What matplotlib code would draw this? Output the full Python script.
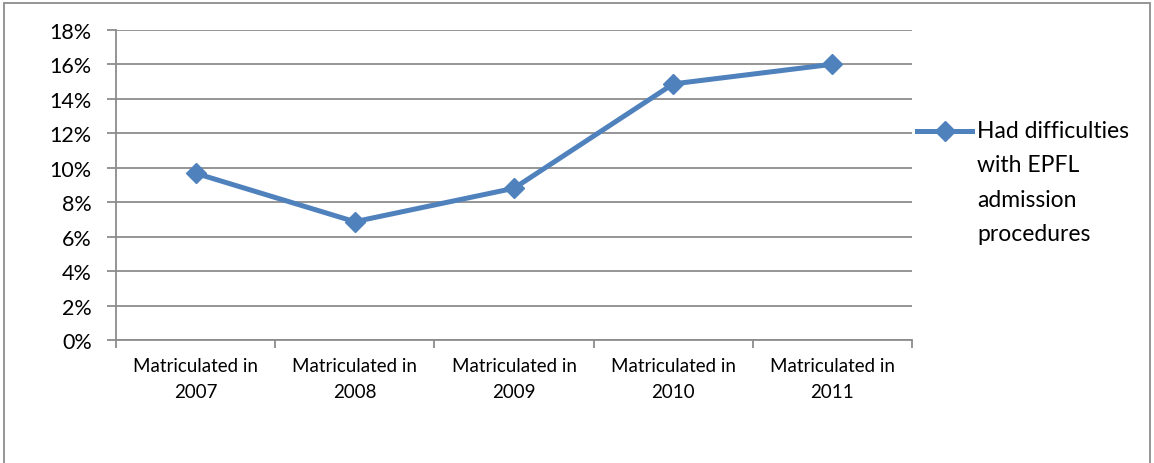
import matplotlib
matplotlib.use("Agg")
import matplotlib.pyplot as plt
from matplotlib.lines import Line2D
from matplotlib.patches import Rectangle
from matplotlib.ticker import FixedLocator, FuncFormatter

categories = ["Matriculated in\n2007", "Matriculated in\n2008", "Matriculated in\n2009",
              "Matriculated in\n2010", "Matriculated in\n2011"]
values = [9.68, 6.87, 8.81, 14.87, 16.01]
series_label = "Had difficulties\nwith EPFL\nadmission\nprocedures"
yticks = [0, 2, 4, 6, 8, 10, 12, 14, 16, 18]

W, H = 1154, 464
fig = plt.figure(figsize=(W / 100, H / 100), dpi=100)
plt.rcParams['font.family'] = ['Lato', 'DejaVu Sans']

blue = "#4F81BD"
grid = "#8C8C8C"

ax = fig.add_axes([116 / W, 1 - 341 / H, (912 - 116) / W, (341 - 31) / H])
x = list(range(len(categories)))
ax.plot(x, values, color=blue, lw=3.6, marker="D", markersize=10.5, zorder=3)
ax.set_xlim(-0.5, len(categories) - 0.5)
ax.set_ylim(0, 18)

ax.set_yticks(yticks)
ax.yaxis.set_major_formatter(FuncFormatter(lambda v, p: f"{int(v)}%"))
ax.tick_params(axis="y", length=6.5, width=1.3, color=grid, labelsize=15.5, pad=11)
ax.yaxis.grid(True, color=grid, lw=1.3)
ax.set_axisbelow(True)

ax.set_xticks(x)
ax.set_xticklabels(categories, fontsize=13.5, linespacing=1.65)
ax.tick_params(axis="x", which="major", length=0, pad=12)
ax.xaxis.set_minor_locator(FixedLocator([i - 0.5 for i in range(len(categories) + 1)]))
ax.tick_params(axis="x", which="minor", length=6, width=1.3, color=grid)

for s in ["top", "right"]:
    ax.spines[s].set_visible(False)
for s in ["left", "bottom"]:
    ax.spines[s].set_color(grid)
    ax.spines[s].set_linewidth(1.3)

# legend drawn in figure pixel coordinates
def fx(px):
    return px / W

def fy(py):
    return 1 - py / H

fig.add_artist(Line2D([fx(917), fx(972)], [fy(132), fy(132)], color=blue, lw=3.6,
                      transform=fig.transFigure))
fig.add_artist(Line2D([fx(945)], [fy(132)], color=blue, marker="D", markersize=10.5,
                      transform=fig.transFigure))
fig.text(fx(977), fy(121), series_label, fontsize=16.5, va="top", ha="left",
         linespacing=1.78, transform=fig.transFigure)

# outer border
fig.add_artist(Rectangle((fx(4), fy(470)), fx(1150) - fx(4), fy(4) - fy(470),
                         fill=False, edgecolor="#8C8C8C", lw=1.3,
                         transform=fig.transFigure))

fig.savefig("out.png", dpi=100)
